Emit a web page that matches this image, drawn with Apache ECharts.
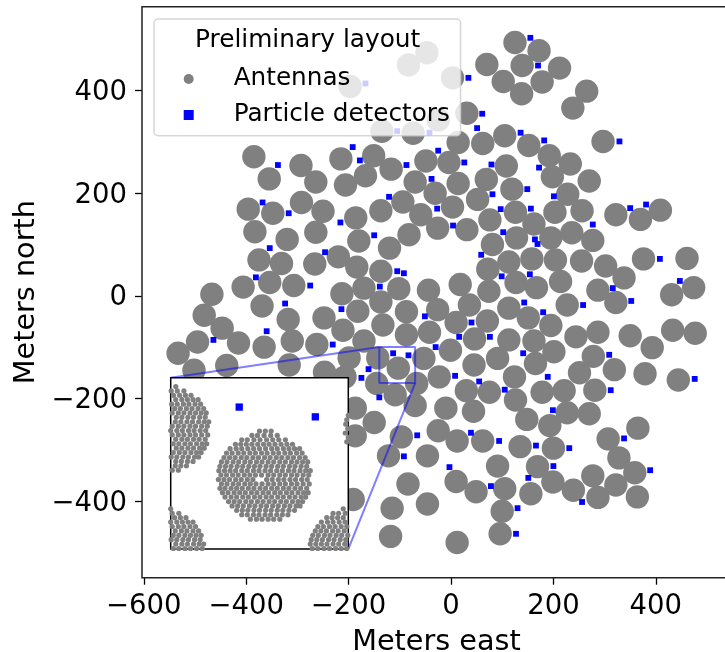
<!DOCTYPE html>
<html><head><meta charset="utf-8">
<style>html,body{margin:0;padding:0;background:#fff}#c{width:725px;height:652px}</style>
<script src="https://cdn.jsdelivr.net/npm/echarts@6/dist/echarts.min.js"></script>
</head><body><div id="c"></div>
<script>
const xTicks=[-600,-400,-200,0,200,400];
const yTicks=[-400,-200,0,200,400];
const xLimits=[-603.5,546.9];
const yLimits=[-549.6,563.7];
const legendTitle='Preliminary layout';
const antennas=[
[-47,474],[-83,450],[-197,408],[-135,321],[-74,317],[-25,343],[3,425],[31,356],
[125,494],[172,478],[70,451],[139,449],[212,444],[102,418],[178,417],[138,394],[265,399],[238,366],
[14,299],[62,297],[105,312],[152,293],[192,273],[233,257],[297,301],[-4,260],[14,219],[69,227],[108,253],[198,232],[270,224],[119,208],[228,198],[-31,200],
[-385,271],[-355,228],[-293,254],[-264,222],[-215,267],[-206,216],[-167,234],[-151,273],[-117,247],[-70,222],[-49,263],
[-396,169],[-348,161],[-292,182],[-250,165],[-186,152],[-137,166],[-94,183],[-59,158],[-383,125],[-320,110],[-264,124],[-180,107],[-82,119],[-26,132],[-120,93],
[-375,70],[-331,63],[-266,62],[-220,76],[-184,56],[-137,48],[-406,17],[-354,26],[-307,20],[-213,4],[-170,15],[-102,14],[-44,11],[-137,-12],[-467,3],[-482,-38],[-369,-20],[-318,-46],[-248,-43],[-182,-30],[-87,-31],[-26,-27],
[-447,-63],[-495,-90],[-415,-92],[-365,-100],[-310,-88],[-262,-95],[-211,-67],[-133,-57],[-87,-76],[-42,-71],[-533,-112],[-502,-145],[-438,-136],[-316,-135],[-247,-149],[-199,-121],[-170,-88],[-143,-121],[-103,-141],[-53,-122],[-207,-158],
[52,188],[3,173],[31,129],[76,148],[126,163],[162,140],[203,163],[256,166],[322,158],[370,149],[409,167],[81,100],[128,113],[195,113],[236,123],[277,108],[72,52],[113,66],[158,72],[204,70],[255,68],[302,58],[376,72],[461,73],[338,35],
[18,22],[74,9],[127,26],[167,16],[214,28],[287,11],[322,-13],[431,2],[474,16],[36,-18],[113,-24],[151,-43],[227,-18],[10,-52],[71,-49],[195,-58],[244,-80],[287,-71],[350,-78],[393,-101],[433,-67],[477,-73],[46,-84],[113,-86],[162,-88],[-1,-106],[201,-109],[278,-118],[91,-122],[165,-132],[45,-135],[319,-144],[379,-152],[251,-150],[124,-158],[444,-164],[-23,-158],
[-145,-171],[-67,-171],[-109,-193],[30,-185],[75,-188],[178,-188],[221,-185],[281,-184],[126,-203],[-187,-219],[-70,-214],[-10,-219],[44,-225],[148,-241],[227,-228],[270,-230],[-150,-247],[193,-253],[-25,-263],[-187,-273],[-97,-275],[12,-283],[62,-283],[135,-294],[200,-297],[307,-279],[365,-258],[-122,-312],[-46,-312],[91,-332],[169,-333],[328,-316],[277,-351],[359,-345],[-84,-367],[10,-362],[199,-363],[322,-369],[49,-382],[105,-376],[156,-386],[239,-379],[287,-393],[364,-392],[-191,-397],[-115,-414],[-46,-406],[100,-420],[-118,-469],[96,-464],[12,-481]
];
const detectors=[
[155,503],[170,449],[34,425],[61,355],[51,327],[136,318],[182,303],[-25,283],[26,260],[79,256],[172,250],[-38,228],[149,208],[329,301],[-167,414],[-105,321],[-42,318],[-192,290],[-338,255],[-178,264],[-87,255],
[-368,182],[-317,161],[-216,143],[-150,118],[-121,193],[-27,170],[-354,93],[-246,85],[-381,36],[-275,20],[-105,48],[-92,44],[-139,18],[-324,-15],[-214,-26],[-51,-40],[-360,-69],[-464,-86],[-231,-95],[-30,-100],[-113,-112],[-83,-116],[-161,-143],
[81,198],[201,194],[97,169],[156,170],[350,171],[381,178],[4,137],[277,139],[102,124],[164,110],[169,101],[59,80],[408,72],[99,38],[154,42],[447,29],[316,15],[352,-10],[143,-13],[258,-18],[180,-32],[40,-52],[16,-80],[76,-80],[141,-112],[309,-115],[8,-156],[189,-158],
[-175,-160],[55,-167],[476,-162],[-140,-198],[105,-183],[312,-184],[199,-223],[-66,-272],[39,-267],[94,-283],[166,-292],[231,-297],[338,-278],[-92,-313],[-3,-334],[200,-332],[389,-340],[151,-355],[78,-371],[130,-414],[256,-402],[127,-464]
];
// One antenna's small elements, metres from its centre
const stationElements=[
[-2,19.2],[0.3,19.2],[2.6,19.2],
[-5,17.4],[-2.8,17.4],[-0.2,17.4],[2.4,17.4],[5,17.4],
[-9,15.6],[-6.8,15.6],[-4.2,15.6],[-1.8,15.6],[0.8,15.6],[3.2,15.6],[5.6,15.6],[8.2,15.6],
[-11.5,13.8],[-9.4,13.8],[-7.2,13.8],[-5,13.8],[-2.7,13.8],[-0.4,13.8],[1.8,13.8],[4.1,13.8],[6.5,13.8],[8.8,13.8],[11,13.8],
[-13.6,12],[-11.2,12],[-9,12],[-6.6,12],[-4.3,12],[-2,12],[0.4,12],[2.8,12],[5,12],[7.4,12],[9.6,12],[11.8,12],[13.8,12],
[-15,10.2],[-12.8,10.2],[-10.4,10.2],[-8.2,10.2],[-5.8,10.2],[-3.6,10.2],[-1.2,10.2],[1,10.2],[3.4,10.2],[5.6,10.2],[8,10.2],[10.2,10.2],[12.6,10.2],[14.8,10.2],
[-16,8.4],[-13.8,8.4],[-11.6,8.4],[-9.2,8.4],[-7,8.4],[-4.6,8.4],[-2.4,8.4],[0,8.4],[2.2,8.4],[4.6,8.4],[6.8,8.4],[9.2,8.4],[11.4,8.4],[13.8,8.4],[16,8.4],
[-17,6.6],[-14.8,6.6],[-12.4,6.6],[-10.2,6.6],[-7.8,6.6],[-5.6,6.6],[-3.2,6.6],[-1,6.6],[1.4,6.6],[3.6,6.6],[6,6.6],[8.2,6.6],[10.6,6.6],[12.8,6.6],[15,6.6],[17,6.6],
[-17.6,4.8],[-15.4,4.8],[-13.2,4.8],[-10.8,4.8],[-8.6,4.8],[-6.2,4.8],[-4,4.8],[-1.8,4.8],[0.6,4.8],[2.8,4.8],[5.2,4.8],[7.4,4.8],[9.8,4.8],[12,4.8],[14.4,4.8],[16.6,4.8],
[-18,3],[-15.8,3],[-13.6,3],[-11.4,3],[-9,3],[-6.8,3],[-4.4,3],[-2.2,3],[0.2,3],[2.4,3],[4.8,3],[7,3],[9.4,3],[11.6,3],[14,3],[16.2,3],[18,3],
[-17.2,1.2],[-15,1.2],[-12.6,1.2],[-10.4,1.2],[-8,1.2],[-5.8,1.2],[-3.6,1.2],[-1.2,1.2],[1.4,1.2],[3.6,1.2],[6,1.2],[8.2,1.2],[10.6,1.2],[12.8,1.2],[15.2,1.2],[17.4,1.2],
[-18.2,-0.6],[-16,-0.6],[-13.8,-0.6],[-11.4,-0.6],[-9.2,-0.6],[-6.8,-0.6],[-4.6,-0.6],[0.8,-0.6],[3,-0.6],[5.4,-0.6],[7.6,-0.6],[10,-0.6],[12.2,-0.6],[14.6,-0.6],[16.8,-0.6],
[-17,-2.4],[-14.8,-2.4],[-12.4,-2.4],[-10.2,-2.4],[-7.8,-2.4],[-5.6,-2.4],[-3.4,-2.4],[-1,-2.4],[1.4,-2.4],[3.6,-2.4],[6,-2.4],[8.2,-2.4],[10.6,-2.4],[12.8,-2.4],[15.2,-2.4],[17.6,-2.4],
[-17.6,-4.2],[-15.6,-4.2],[-13.2,-4.2],[-11,-4.2],[-8.8,-4.2],[-6.4,-4.2],[-4.2,-4.2],[-1.8,-4.2],[0.4,-4.2],[2.8,-4.2],[5,-4.2],[7.4,-4.2],[9.6,-4.2],[12,-4.2],[14.2,-4.2],[16.6,-4.2],
[-16.6,-6],[-14.4,-6],[-12,-6],[-9.8,-6],[-7.6,-6],[-5.2,-6],[-3,-6],[-0.6,-6],[1.6,-6],[4,-6],[6.2,-6],[8.6,-6],[10.8,-6],[13.2,-6],[15.4,-6],[17.2,-6],
[-15.6,-7.8],[-13.2,-7.8],[-11,-7.8],[-8.6,-7.8],[-6.4,-7.8],[-4,-7.8],[-1.8,-7.8],[0.6,-7.8],[2.8,-7.8],[5.2,-7.8],[7.4,-7.8],[9.8,-7.8],[12,-7.8],[14.4,-7.8],[16.2,-7.8],
[-14.2,-9.6],[-12,-9.6],[-9.8,-9.6],[-7.4,-9.6],[-5.2,-9.6],[-2.8,-9.6],[-0.6,-9.6],[1.8,-9.6],[4,-9.6],[6.4,-9.6],[8.6,-9.6],[11,-9.6],[13.2,-9.6],[15,-9.6],
[-12.8,-11.4],[-10.6,-11.4],[-8.4,-11.4],[-6,-11.4],[-3.8,-11.4],[-1.4,-11.4],[0.8,-11.4],[3.2,-11.4],[5.4,-11.4],[7.8,-11.4],[10,-11.4],[12.4,-11.4],[14,-11.4],
[-11,-13.2],[-8.8,-13.2],[-6.6,-13.2],[-4.2,-13.2],[-2,-13.2],[0.4,-13.2],[2.6,-13.2],[5,-13.2],[7.2,-13.2],[9.6,-13.2],[11.8,-13.2],
[-9,-15],[-6.8,-15],[-4.4,-15],[-2.2,-15],[0.2,-15],[2.4,-15],[4.8,-15],[7,-15],[9.2,-15],
[-5.6,-16.8],[-3.2,-16.8],[-1,-16.8],[1.4,-16.8],[3.6,-16.8],[6,-16.8]
];
const insetXLimits=[-140,-70];
const insetYLimits=[-170,-100];
const insetCornersInMainAxes={left:-547.4,right:-200.6,top:-159.7,bottom:-493.7};

const inView=a=>a[0]>insetXLimits[0]-25&&a[0]<insetXLimits[1]+25&&a[1]>insetYLimits[0]-25&&a[1]<insetYLimits[1]+25;
const insetElements=[];
antennas.filter(inView).forEach(a=>stationElements.forEach(e=>insetElements.push([a[0]+e[0],a[1]+e[1]])));

const [x0,x1]=insetXLimits,[y0,y1]=insetYLimits,c=insetCornersInMainAxes;
const rectPath=[[x0,y1],[x1,y1],[x1,y0],[x0,y0],[x0,y1]];
const connectorPath=[[c.left,c.top],[x0,y1],['-','-'],[x1,y0],[c.right,c.bottom]];
const FONT='DejaVu Sans';
const sign=v=>String(v).replace('-','\u2212');
const indicator={color:'#0000ff',opacity:0.5,width:2};
const chart=echarts.init(document.getElementById('c'),null,{renderer:'canvas'});
chart.setOption({
animation:false,backgroundColor:'#fff',
title:{text:legendTitle,left:195,top:28,padding:0,z:12,textStyle:{fontFamily:FONT,fontSize:24.8,fontWeight:'normal',color:'#000'}},
legend:{left:154,top:19,orient:'vertical',z:10,padding:[47,10.7,7.7,29.7],itemWidth:10,itemHeight:10,itemGap:10,
 backgroundColor:'rgba(255,255,255,0.8)',borderColor:'rgba(204,204,204,0.8)',borderWidth:1.5,borderRadius:4,
 textStyle:{fontFamily:FONT,fontSize:24.7,color:'#000',lineHeight:26,padding:[0,0,0,35]},
 data:[{name:'Antennas',icon:'circle',itemStyle:{color:'#808080',opacity:1}},{name:'Particle detectors',icon:'rect',itemStyle:{color:'#0000ff',opacity:1}}]},
grid:[
 {left:142,top:6.7,width:589,height:571,show:true,borderColor:'#222',borderWidth:1.5,backgroundColor:'transparent',z:1,outerBoundsMode:'none',containLabel:false},
 {left:170.7,top:377.7,width:177.6,height:171.3,show:true,borderColor:'#000',borderWidth:1.5,backgroundColor:'#fff',z:5,outerBoundsMode:'none',containLabel:false}
],
xAxis:[
 {type:'value',gridIndex:0,min:xLimits[0],max:xLimits[1],name:'Meters east',nameLocation:'middle',nameGap:50,
  nameTextStyle:{fontFamily:FONT,fontSize:28.7,color:'#000'},
  axisLine:{show:false,onZero:false},splitLine:{show:false},
  axisTick:{show:true,customValues:xTicks,length:7,lineStyle:{color:'#000',width:1.3}},
  axisLabel:{customValues:xTicks,formatter:sign,margin:15,fontFamily:FONT,fontSize:27.5,color:'#000',hideOverlap:false}},
 {type:'value',gridIndex:1,min:insetXLimits[0],max:insetXLimits[1],show:false}
],
yAxis:[
 {type:'value',gridIndex:0,min:yLimits[0],max:yLimits[1],name:'Meters north',nameLocation:'middle',nameGap:100,
  nameTextStyle:{fontFamily:FONT,fontSize:28.7,color:'#000'},
  axisLine:{show:false,onZero:false},splitLine:{show:false},
  axisTick:{show:true,customValues:yTicks,length:7,lineStyle:{color:'#000',width:1.3}},
  axisLabel:{customValues:yTicks,formatter:v=>'{a|'+sign(v)+'}',margin:15,hideOverlap:false,
   rich:{a:{fontFamily:FONT,fontSize:27.5,color:'#000',padding:[5,0,0,0]}}}},
 {type:'value',gridIndex:1,min:insetYLimits[0],max:insetYLimits[1],show:false}
],
series:[
 {name:'Antennas',type:'scatter',xAxisIndex:0,yAxisIndex:0,data:antennas,symbol:'circle',symbolSize:23.4,itemStyle:{color:'#808080',opacity:1},z:2,silent:true,large:false},
 {name:'Particle detectors',type:'scatter',xAxisIndex:0,yAxisIndex:0,data:detectors,symbol:'rect',symbolSize:5.8,itemStyle:{color:'#0000ff',opacity:1},z:3,silent:true},
 {name:'Zoom box',type:'line',xAxisIndex:0,yAxisIndex:0,data:rectPath,showSymbol:false,lineStyle:indicator,z:4,silent:true,clip:false},
 {name:'Zoom connectors',type:'line',xAxisIndex:0,yAxisIndex:0,data:connectorPath,showSymbol:false,lineStyle:indicator,z:4,silent:true,clip:false,connectNulls:false},
 {name:'Antenna elements',type:'scatter',xAxisIndex:1,yAxisIndex:1,data:insetElements,symbol:'circle',symbolSize:5.2,itemStyle:{color:'#808080',opacity:1},z:6,silent:true},
 {name:'Detectors in inset',type:'scatter',xAxisIndex:1,yAxisIndex:1,data:detectors,symbol:'rect',symbolSize:7.3,itemStyle:{color:'#0000ff',opacity:1},z:7,silent:true}
]});
</script></body></html>
